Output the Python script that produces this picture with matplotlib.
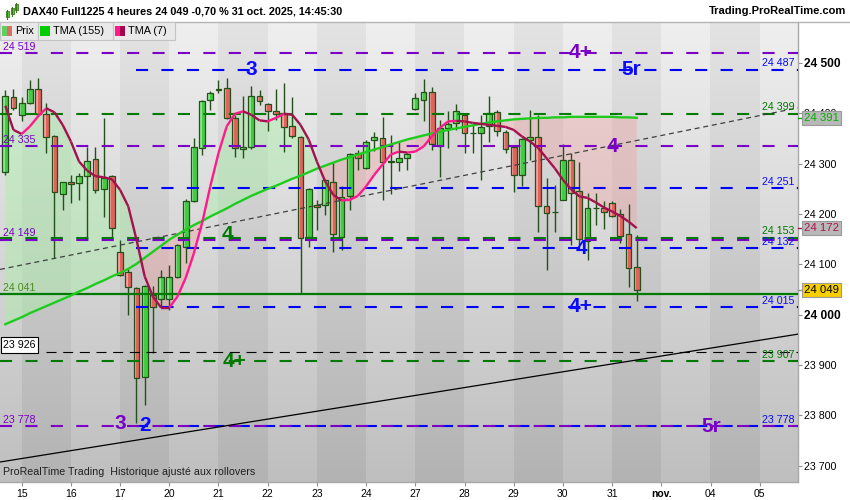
import numpy as np
import matplotlib.pyplot as plt
from matplotlib.patches import Rectangle
from matplotlib.collections import LineCollection
from matplotlib.lines import Line2D

plt.rcParams['font.family'] = ['Liberation Sans', 'DejaVu Sans']

# --- bougies 4 heures DAX40 (du 14 oct. 16h au 31 oct. 12h) ---
opens = [24284, 24432, 24397, 24420, 24448, 24399, 24354, 24240, 24263, 24261,
         24275, 24309, 24250, 24275, 24124, 24084, 24053, 23876, 24039, 24031,
         24031, 24075, 24134, 24225, 24331, 24427, 24447, 24450, 24391, 24329,
         24334, 24435, 24418, 24405, 24400, 24374, 24353, 24155, 24218, 24218,
         24263, 24155, 24235, 24321, 24291, 24346, 24351, 24304, 24303, 24311,
         24408, 24426, 24443, 24336, 24371, 24381, 24397, 24361, 24361, 24375,
         24402, 24362, 24333, 24278, 24346, 24353, 24215, 24204, 24228, 24308,
         24245, 24147, 24212, 24212, 24222, 24199, 24160, 24094]
highs = [24447, 24448, 24432, 24467, 24471, 24420, 24357, 24264, 24278, 24281,
         24334, 24334, 24391, 24278, 24149, 24091, 24055, 24058, 24056, 24089,
         24099, 24141, 24229, 24351, 24426, 24444, 24467, 24470, 24397, 24434,
         24454, 24446, 24421, 24448, 24460, 24432, 24354, 24251, 24228, 24269,
         24304, 24255, 24321, 24328, 24347, 24363, 24393, 24357, 24343, 24324,
         24440, 24468, 24453, 24387, 24405, 24419, 24399, 24377, 24397, 24435,
         24406, 24367, 24334, 24351, 24407, 24397, 24271, 24258, 24340, 24322,
         24304, 24242, 24242, 24225, 24225, 24210, 24220, 24159]
lows = [24278, 24407, 24384, 24419, 24395, 24321, 24112, 24208, 24222, 24228,
        24149, 24242, 24195, 24149, 24076, 24000, 23784, 23821, 23923, 24016,
        24010, 24073, 24102, 24223, 24318, 24406, 24440, 24388, 24313, 24311,
        24329, 24417, 24364, 24387, 24324, 24350, 24043, 24134, 24169, 24198,
        24124, 24129, 24208, 24288, 24289, 24326, 24227, 24240, 24285, 24288,
        24407, 24384, 24328, 24273, 24331, 24367, 24321, 24321, 24268, 24344,
        24354, 24321, 24243, 24256, 24308, 24165, 24088, 24165, 24227, 24139,
        24139, 24109, 24179, 24170, 24195, 24142, 24055, 24028]
closes = [24434, 24410, 24420, 24448, 24399, 24353, 24243, 24263, 24260, 24275,
          24306, 24248, 24271, 24172, 24079, 24055, 23874, 24056, 24016, 24075,
          24075, 24139, 24225, 24333, 24424, 24440, 24448, 24391, 24331, 24334,
          24434, 24424, 24405, 24399, 24373, 24354, 24152, 24249, 24214, 24268,
          24160, 24234, 24319, 24311, 24343, 24353, 24304, 24303, 24311, 24320,
          24430, 24442, 24339, 24371, 24379, 24404, 24361, 24360, 24373, 24400,
          24365, 24329, 24278, 24349, 24353, 24216, 24202, 24203, 24308, 24242,
          24150, 24212, 24211, 24204, 24196, 24157, 24092, 24049]

tma155 = [23981, 23988, 23995, 24003, 24010, 24017, 24024, 24031, 24038, 24046,
          24053, 24061, 24068, 24076, 24083, 24091, 24101, 24113, 24125, 24137,
          24149, 24159, 24169, 24178, 24186, 24195, 24203, 24211, 24220, 24228,
          24236, 24243, 24250, 24256, 24263, 24270, 24276, 24283, 24290, 24296,
          24302, 24308, 24313, 24318, 24323, 24328, 24333, 24338, 24343, 24348,
          24352, 24356, 24360, 24363, 24367, 24370, 24373, 24376, 24379, 24382,
          24384, 24386, 24388, 24389, 24390, 24391, 24391, 24392, 24392, 24393,
          24393, 24393, 24393, 24393, 24393, 24392, 24392, 24391]
tma7 = [24415, 24367, 24359, 24374, 24394, 24410, 24402, 24377, 24344, 24304,
        24286, 24275, 24273, 24269, 24248, 24215, 24149, 24076, 24036, 24014,
        24014, 24036, 24073, 24122, 24182, 24255, 24321, 24374, 24399, 24404,
        24397, 24386, 24384, 24391, 24399, 24397, 24377, 24348, 24304, 24265,
        24238, 24227, 24228, 24236, 24255, 24278, 24298, 24318, 24324, 24322,
        24324, 24334, 24354, 24371, 24384, 24385, 24384, 24381, 24379, 24377,
        24375, 24373, 24367, 24354, 24344, 24331, 24311, 24291, 24268, 24249,
        24235, 24232, 24223, 24213, 24205, 24196, 24185, 24172]

day_labels = ['15', '16', '17', '20', '21', '22', '23', '24', '27', '28',
              '29', '30', '31', 'nov.', '04', '05']
bars_per_day = 6
first_day_bar = 2

purple_levels = [24519, 24335, 24149, 23778]
green_levels = [24399, 24153, 23907]
blue_levels = [24487, 24251, 24132, 24015, 23778]
support_level = 24041
box_level = 23926
blue_start_bar = 16
box_line_start_bar = 5

# droites de tendance : (barre, prix) pour deux points
dashed_trend = [(0, 24092), (77, 24346)]
solid_trend = [(0, 23709), (77, 23910)]

# etiquettes de vagues : texte, barre, prix, couleur
wave_tags = [
    ('3', 30.0, 24487, '#0a0aff'),
    ('5r', 76.3, 24487, '#0a0aff'),
    ('4+', 70.1, 24521, '#7a00c8'),
    ('4', 74.1, 24335, '#7a00c8'),
    ('4', 27.1, 24160, '#007a00'),
    ('4', 70.2, 24132, '#0a0aff'),
    ('4+', 70.1, 24017, '#0a0aff'),
    ('4+', 27.9, 23906, '#007a00'),
    ('3', 14.0, 23784, '#7a00c8'),
    ('2', 17.0, 23780, '#0a0aff'),
    ('5r', 86.1, 23778, '#7a00c8'),
]

last_price = 24049

W, H = 850, 500
fig = plt.figure(figsize=(W / 100, H / 100), dpi=100)
fig.patch.set_facecolor('white')

ax_l, ax_r, ax_t, ax_b = 0, 798, 21.7, 482.3
ax = fig.add_axes([ax_l / W, 1 - ax_b / H, (ax_r - ax_l) / W, (ax_b - ax_t) / H])

n = len(closes)
x = np.arange(n)
ymin, ymax = 23667, 24582
xmin, xmax = -0.646, 96.67

# fond : bandes journalieres avec degrade vertical
n_bands = len(day_labels) + 1
band_left = first_day_bar - bars_per_day
rows = 200
t = np.linspace(0, 1, rows)[:, None]
img = np.zeros((rows, n_bands, 3))
for k in range(n_bands):
    if k % 2 == 0:
        top, bot = 0.937, 0.749
    else:
        top, bot = 0.892, 0.702
    img[:, k, :] = (top + (bot - top) * t)
ax.imshow(img, extent=(band_left, band_left + n_bands * bars_per_day, ymin, ymax),
          aspect='auto', origin='upper', interpolation='nearest', zorder=0)

# remplissage entre les moyennes
t155 = np.array(tma155, float)
t7 = np.array(tma7, float)
ax.fill_between(x, t7, t155, where=t7 >= t155, interpolate=True,
                color='#a8f0a8', alpha=0.45, lw=0, zorder=1)
ax.fill_between(x, t7, t155, where=t7 < t155, interpolate=True,
                color='#f0a0a0', alpha=0.38, lw=0, zorder=1)

# bougies
edge = '#24501a'
ax.vlines(x, lows, highs, colors=edge, lw=1, zorder=3)
for i in range(n):
    o, c = opens[i], closes[i]
    if c > o:
        fc, hl = '#42cc42', '#8fe68f'
    else:
        fc, hl = '#e2625c', '#f4a39c'
    h = max(abs(c - o), 1.5)
    ax.add_patch(Rectangle((i - 0.36, min(o, c)), 0.72, h, facecolor=fc,
                           edgecolor='none', zorder=4))
    ax.add_patch(Rectangle((i - 0.36, min(o, c)), 0.3, h, facecolor=hl,
                           edgecolor='none', zorder=4))
    ax.add_patch(Rectangle((i - 0.36, min(o, c)), 0.72, h, facecolor='none',
                           edgecolor=edge, lw=0.9, zorder=4))

# niveaux horizontaux
dash = (5.8, 6.4)
for lv in blue_levels:
    ax.hlines(lv, blue_start_bar, xmax, colors='#0000ff', lw=1.5,
              linestyles=[(0, dash)], zorder=4.5)
for lv in purple_levels:
    ax.hlines(lv, xmin, xmax, colors='#7a00c8', lw=1.5,
              linestyles=[(0, dash)], zorder=4.5)
for lv in green_levels:
    ax.hlines(lv, xmin, xmax, colors='#007a00', lw=1.5,
              linestyles=[(0, dash)], zorder=4.5)
ax.hlines(box_level, box_line_start_bar, xmax, colors='black', lw=0.8,
          linestyles=[(0, (9, 6))], zorder=4.5)
ax.axhline(support_level, color='#007a00', lw=1.6, zorder=4.5)

ax.axline(dashed_trend[0], dashed_trend[1], color='#404040', lw=0.9,
          linestyle=(0, (4, 3)), zorder=4.5)
ax.axline(solid_trend[0], solid_trend[1], color='black', lw=0.9, zorder=4.5)

# moyennes mobiles
ax.plot(x, t155, color='#1ecc1e', lw=1.7, zorder=5)
pts = np.column_stack([x, t7])
segs = np.stack([pts[:-1], pts[1:]], axis=1)
cols = ['#ff1a8c' if d > 0 else '#a3124e' for d in np.diff(t7)]
ax.add_collection(LineCollection(segs, colors=cols, lw=1.7, zorder=5))

# etiquettes des niveaux
lab_fs = 7.7
right_labels = [(lv, '#0a0aff') for lv in blue_levels] + [(lv, '#007a00') for lv in green_levels]
for lv, col in right_labels:
    ax.text(0.996, lv + 7, f"{lv:,}".replace(',', ' '), color=col, fontsize=lab_fs,
            ha='right', va='baseline', transform=ax.get_yaxis_transform(), zorder=6)
for lv in purple_levels:
    ax.text(0.004, lv + 7, f"{lv:,}".replace(',', ' '), color='#7a00c8', fontsize=lab_fs,
            ha='left', va='baseline', transform=ax.get_yaxis_transform(), zorder=6)
ax.text(0.004, support_level + 7, f"{support_level:,}".replace(',', ' '), color='#4d8a1e',
        fontsize=lab_fs, ha='left', va='baseline', transform=ax.get_yaxis_transform(), zorder=6)
ax.text(0.004, box_level + 14, f"{box_level:,}".replace(',', ' '), color='black',
        fontsize=lab_fs, ha='left', va='center', transform=ax.get_yaxis_transform(), zorder=6,
        bbox=dict(boxstyle='square,pad=0.25', fc='white', ec='black', lw=0.8))

for txt, bx, lv, col in wave_tags:
    ax.text(bx, lv, txt, color=col, fontsize=15, fontweight='bold',
            ha='center', va='center', zorder=6)

ax.text(0.004, 0.012, 'ProRealTime Trading  Historique ajusté aux rollovers',
        transform=ax.transAxes, fontsize=7.7, color='#202020', ha='left', va='bottom', zorder=6)

ax.set_xlim(xmin, xmax)
ax.set_ylim(ymin, ymax)

# axes
for s in ['left', 'top']:
    ax.spines[s].set_visible(False)
for s in ['right', 'bottom']:
    ax.spines[s].set_color('#a8a8a8')
    ax.spines[s].set_linewidth(1)

yt = list(range(23700, 24501, 100))
ax.yaxis.tick_right()
ax.set_yticks(yt)
ax.set_yticklabels([f"{v:,}".replace(',', ' ') for v in yt])
ax.tick_params(axis='y', length=3, color='#909090', pad=1.5, labelsize=7.7)
for lab, v in zip(ax.get_yticklabels(), yt):
    if v % 500 == 0:
        lab.set_fontweight('bold')
        lab.set_fontsize(8.6)

ax.set_xticks([first_day_bar + k * bars_per_day for k in range(len(day_labels))])
ax.set_xticklabels(day_labels)
ax.tick_params(axis='x', length=3, color='#909090', pad=2, labelsize=7.5)
ax.get_xticklabels()[day_labels.index('nov.')].set_fontweight('bold')

# boites de prix sur l'axe de droite
ytr = ax.get_yaxis_transform()
price_boxes = [(t155[-1], '#00b000', '#b8b8b8'), (t7[-1], '#b0104a', '#b8b8b8'),
               (last_price, 'black', '#f5cf00')]
for pv, tc, bg in price_boxes:
    ax.plot([1.0, 1.0063], [pv, pv], color=tc if tc != 'black' else '#909090', lw=1,
            transform=ytr, clip_on=False, zorder=7)
    ax.text(1.0075, pv, f"{pv:,.0f}".replace(',', ' '), color=tc, fontsize=8.2,
            ha='left', va='center', transform=ytr, clip_on=False, zorder=8,
            bbox=dict(boxstyle='square,pad=0.2', fc=bg, ec='#9a9a9a', lw=0.8))


def fx(px):
    return px / W


def fy(py):
    return 1 - py / H


# en-tete
fig.add_artist(Line2D([0, 1], [fy(21.5), fy(21.5)], color='#b4b4b4', lw=1))
fig.text(fx(23), fy(11), 'DAX40 Full1225 4 heures 24 049 -0,70 % 31 oct. 2025, 14:45:30',
         fontsize=7.8, fontweight='bold', ha='left', va='center')
fig.text(fx(846), fy(11), 'Trading.ProRealTime.com', fontsize=8, fontweight='bold',
         ha='right', va='center')
# petite icone
for cx, y0, y1 in [(7, 11, 17), (12, 8, 14), (16, 4, 10)]:
    fig.add_artist(Line2D([fx(cx), fx(cx)], [fy(y0 - 1.5), fy(y1 + 1.5)], color='#3a7a1a', lw=0.8))
    fig.add_artist(Rectangle((fx(cx - 1.5), fy(y1)), 3 / W, (y1 - y0) / H,
                             transform=fig.transFigure, fc='#55cc33', ec='#3a7a1a', lw=0.6))

# legende
legend_boxes = [(0, 37.5, 'Prix', ('#5fcf5f', '#e06a64')),
                (38, 112.5, 'TMA (155)', ('#00cc00', '#00cc00')),
                (113, 175, 'TMA (7)', ('#ff1a8c', '#a3004e'))]
for x0, x1, txt, (c1, c2) in legend_boxes:
    fig.add_artist(Rectangle((fx(x0), fy(39.5)), (x1 - x0) / W, 17.5 / H,
                             transform=fig.transFigure, fc='#e9e9e9', ec='#c4c4c4', lw=0.8, zorder=9))
    fig.add_artist(Rectangle((fx(x0 + 2), fy(35.5)), 5 / W, 9.5 / H,
                             transform=fig.transFigure, fc=c1, ec='none', zorder=10))
    fig.add_artist(Rectangle((fx(x0 + 7), fy(35.5)), 5 / W, 9.5 / H,
                             transform=fig.transFigure, fc=c2, ec='none', zorder=10))
    fig.text(fx(x0 + 15), fy(31), txt, fontsize=7.8, ha='left', va='center', zorder=11)

fig.savefig('out.png', dpi=100)
